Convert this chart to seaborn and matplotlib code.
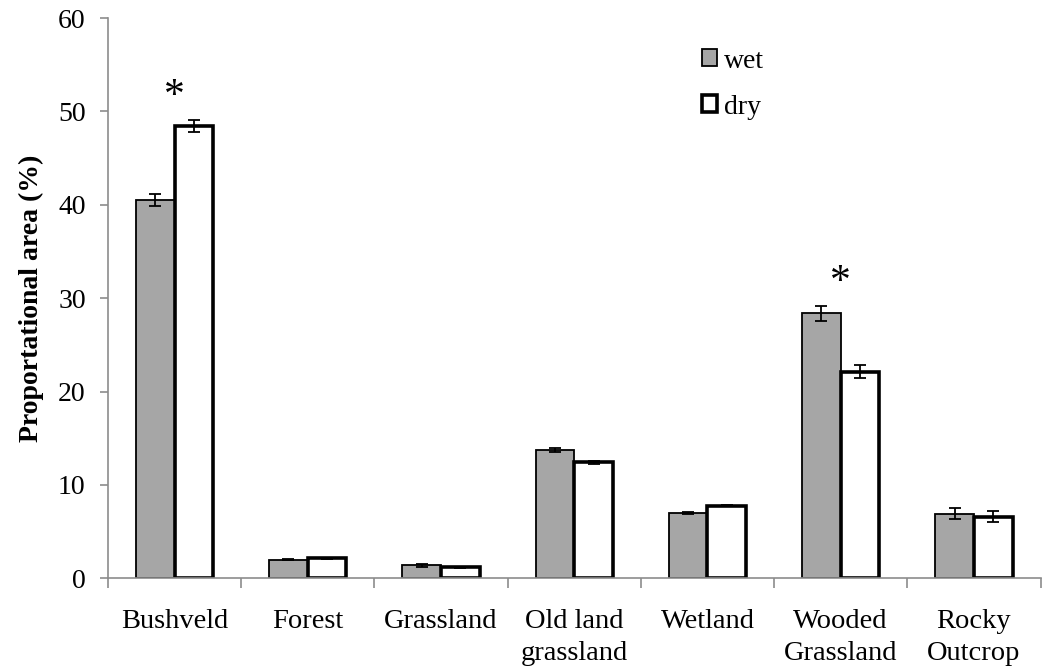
import matplotlib
matplotlib.use("Agg")
import matplotlib.pyplot as plt
import seaborn as sns
import pandas as pd
import numpy as np
from matplotlib.patches import Patch

categories = ["Bushveld", "Forest", "Grassland", "Old land\ngrassland", "Wetland",
              "Wooded\nGrassland", "Rocky\nOutcrop"]
wet = [40.5, 2.0, 1.4, 13.7, 7.0, 28.4, 6.9]
dry = [48.4, 2.15, 1.15, 12.4, 7.75, 22.1, 6.6]
wet_err = [0.65, 0.1, 0.15, 0.2, 0.1, 0.8, 0.6]
dry_err = [0.65, 0.05, 0.05, 0.12, 0.05, 0.7, 0.55]
significant = ["Bushveld", "Wooded\nGrassland"]

sns.set_theme(style="white")
plt.rcParams["font.family"] = ["Liberation Serif", "DejaVu Serif"]
plt.rcParams["text.color"] = "black"
plt.rcParams["axes.labelcolor"] = "black"
plt.rcParams["xtick.color"] = "black"
plt.rcParams["ytick.color"] = "black"

df = pd.DataFrame({
    "category": categories * 2,
    "season": ["wet"] * len(categories) + ["dry"] * len(categories),
    "value": wet + dry,
})

fig = plt.figure(figsize=(10.42, 6.70), dpi=100)
ax = fig.add_axes([0.1036, 0.137, 0.895, 0.836])

sns.barplot(data=df, x="category", y="value", hue="season", order=categories,
            hue_order=["wet", "dry"], palette={"wet": "#a6a6a6", "dry": "white"},
            width=0.58, errorbar=None, legend=False, ax=ax)

n = len(categories)
bars = ax.patches
for i, p in enumerate(bars[:2 * n]):
    if i < n:
        p.set_facecolor("#a6a6a6")
        p.set_edgecolor("black")
        p.set_linewidth(1.3)
    else:
        p.set_facecolor("white")
        p.set_edgecolor("black")
        p.set_linewidth(2.6)

# error bars at bar centres
for i in range(n):
    pw = bars[i]
    pd_ = bars[n + i]
    ax.errorbar(pw.get_x() + pw.get_width() / 2, wet[i], yerr=wet_err[i],
                fmt="none", ecolor="black", elinewidth=1.3, capsize=4.5, capthick=1.3, zorder=5)
    ax.errorbar(pd_.get_x() + pd_.get_width() / 2, dry[i], yerr=dry_err[i],
                fmt="none", ecolor="black", elinewidth=1.3, capsize=4.5, capthick=1.3, zorder=5)

# significance markers
for i, c in enumerate(categories):
    if c in significant:
        top = max(wet[i] + wet_err[i], dry[i] + dry_err[i])
        ax.text(i, top + 2.5, "*", ha="center", va="center", fontsize=30, color="black")

ax.set_ylim(0, 60)
ax.set_xlim(-0.5, n - 0.5)
ax.set_yticks(np.arange(0, 61, 10))
ax.tick_params(axis="y", labelsize=20, length=6, width=1.2, color="#8c8c8c",
               labelcolor="black", direction="out", left=True, pad=10)
ax.set_xticks(range(n))
ax.set_xticklabels(categories, fontsize=20.5, linespacing=1.4)
ax.tick_params(axis="x", which="major", length=0, pad=22, labelcolor="black")
ax.set_xticks(np.arange(-0.5, n, 1.0), minor=True)
ax.tick_params(axis="x", which="minor", length=7, width=1.2, color="#8c8c8c",
               direction="out", bottom=True)
ax.set_xlabel("")
ax.set_ylabel("Proportational area (%)", fontsize=20, fontweight="bold", labelpad=10)

for s in ["top", "right"]:
    ax.spines[s].set_visible(False)
for s in ["left", "bottom"]:
    ax.spines[s].set_color("#8c8c8c")
    ax.spines[s].set_linewidth(1.2)

handles = [Patch(facecolor="#a6a6a6", edgecolor="black", linewidth=1.3, label="wet"),
           Patch(facecolor="white", edgecolor="black", linewidth=2.6, label="dry")]
ax.legend(handles=handles, loc="upper left", bbox_to_anchor=(0.61, 0.99), frameon=False,
          fontsize=20, handlelength=0.55, handleheight=0.55, handletextpad=0.25,
          labelspacing=0.75)

fig.savefig("out.png", dpi=100, facecolor="white")
